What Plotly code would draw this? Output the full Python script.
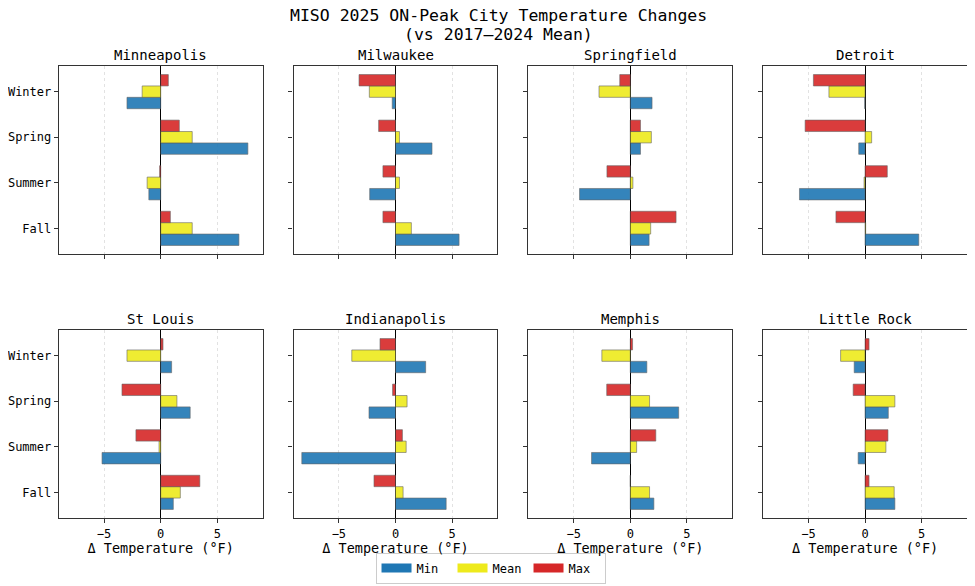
import plotly.graph_objects as go
from plotly.subplots import make_subplots

seasons = ["Winter", "Spring", "Summer", "Fall"]
cities = ["Minneapolis", "Milwaukee", "Springfield", "Detroit",
          "St Louis", "Indianapolis", "Memphis", "Little Rock"]

# Δ temperature (°F) per city, seasons in order Winter, Spring, Summer, Fall
min_delta = [
    [-2.98, 7.69, -1.05, 6.90],
    [-0.29, 3.22, -2.28, 5.61],
    [1.92, 0.90, -4.48, 1.66],
    [-0.03, -0.56, -5.79, 4.74],
    [0.96, 2.60, -5.18, 1.11],
    [2.66, -2.34, -8.27, 4.47],
    [1.46, 4.27, -3.42, 2.08],
    [-0.96, 2.05, -0.61, 2.63],
]
mean_delta = [
    [-1.64, 2.78, -1.20, 2.78],
    [-2.31, 0.35, 0.35, 1.40],
    [-2.76, 1.86, 0.23, 1.80],
    [-3.19, 0.58, -0.09, 0.05],
    [-2.98, 1.43, -0.15, 1.73],
    [-3.86, 1.02, 0.94, 0.67],
    [-2.51, 1.70, 0.56, 1.70],
    [-2.16, 2.63, 1.84, 2.57],
]
max_delta = [
    [0.67, 1.64, -0.10, 0.85],
    [-3.22, -1.49, -1.11, -1.11],
    [-0.93, 0.90, -2.06, 4.04],
    [-4.56, -5.29, 1.96, -2.57],
    [0.20, -3.42, -2.19, 3.45],
    [-1.37, -0.26, 0.61, -1.90],
    [0.20, -2.08, 2.25, 0.00],
    [0.35, -1.05, 2.02, 0.35],
]

series_names = ["Min", "Mean", "Max"]
series_data = [min_delta, mean_delta, max_delta]
series_colors = ["#1f77b4", "#eeea1c", "#d62728"]

FONT = "DejaVu Sans Mono"
# page body has an 8px margin; work in window pixels and shift
OFF = 8
W, H = 975 - OFF, 586 - OFF

fig = make_subplots(rows=2, cols=4)

col_px = [(54, 259), (290, 495), (526, 731), (762, 967)]
row_px = [(66, 254), (330, 518)]


def px_x(p):
    return (p - OFF) / W


def px_y(p):
    return 1 - (p - OFF) / H


for i, city in enumerate(cities):
    r, c = divmod(i, 4)
    for s, (name, data, color) in enumerate(zip(series_names, series_data, series_colors)):
        fig.add_trace(
            go.Bar(
                x=data[i], y=seasons, orientation="h", name=name,
                marker=dict(color=color, opacity=0.9,
                            line=dict(color="#555555", width=0.6)),
                showlegend=False,
            ),
            row=r + 1, col=c + 1,
        )
    x0, x1 = col_px[c]
    y0, y1 = row_px[r]
    xd = [px_x(x0), px_x(x1)]
    yd = [px_y(y1), px_y(y0)]
    fig.update_xaxes(
        domain=xd, range=[-9, 9], tickvals=[-5, 0, 5],
        showticklabels=(r == 1), ticks="outside", ticklen=4, tickcolor="#333",
        showgrid=True, gridcolor="#e2e2e2", griddash="3px,3px", gridwidth=0.8,
        zeroline=True, zerolinecolor="#000000", zerolinewidth=1.2,
        showline=True, linecolor="#333333", linewidth=1.2, mirror=True,
        tickfont=dict(family=FONT, size=12, color="#000"),
        title=dict(text="Δ Temperature (°F)" if r == 1 else "",
                   font=dict(family=FONT, size=13.5, color="#000"), standoff=2),
        fixedrange=True,
        row=r + 1, col=c + 1,
    )
    fig.update_yaxes(
        domain=yd, categoryorder="array",
        categoryarray=["Fall", "Summer", "Spring", "Winter"],
        range=[-0.5625, 3.5625],
        showticklabels=(c == 0), ticks="outside", ticklen=4, tickcolor="#333",
        showgrid=False, zeroline=False,
        showline=True, linecolor="#333333", linewidth=1.2, mirror=True,
        tickfont=dict(family=FONT, size=12, color="#000"),
        fixedrange=True,
        row=r + 1, col=c + 1,
    )
    fig.add_annotation(
        text=city, x=(xd[0] + xd[1]) / 2, y=yd[1], xref="paper", yref="paper",
        xanchor="center", yanchor="bottom", yshift=1, showarrow=False,
        font=dict(family=FONT, size=14, color="#000"),
    )

# legend-only entries (wide swatches like the reference)
for name, color in zip(series_names, series_colors):
    fig.add_trace(
        go.Scatter(x=[None], y=[None], mode="lines", name=name,
                   line=dict(color=color, width=9), showlegend=True),
        row=1, col=1,
    )

fig.add_annotation(text="MISO 2025 ON-Peak City Temperature Changes",
                   x=px_x(496), y=px_y(16), xref="paper", yref="paper",
                   xanchor="center", yanchor="middle", showarrow=False,
                   font=dict(family=FONT, size=16.5, color="#000"))
fig.add_annotation(text="(vs 2017–2024 Mean)",
                   x=px_x(496), y=px_y(34), xref="paper", yref="paper",
                   xanchor="center", yanchor="middle", showarrow=False,
                   font=dict(family=FONT, size=16.5, color="#000"))

fig.update_layout(
    width=W, height=H,
    margin=dict(l=0, r=0, t=0, b=0),
    paper_bgcolor="white", plot_bgcolor="white",
    barmode="group", bargap=0.25, bargroupgap=0,
    font=dict(family=FONT, color="#000"),
    legend=dict(orientation="h", x=px_x(488), xanchor="center",
                y=px_y(568), yanchor="middle",
                bordercolor="#cccccc", borderwidth=1,
                font=dict(family=FONT, size=12, color="#000"),
                entrywidth=31, tracegroupgap=0),
)

fig.write_html("out.html")
